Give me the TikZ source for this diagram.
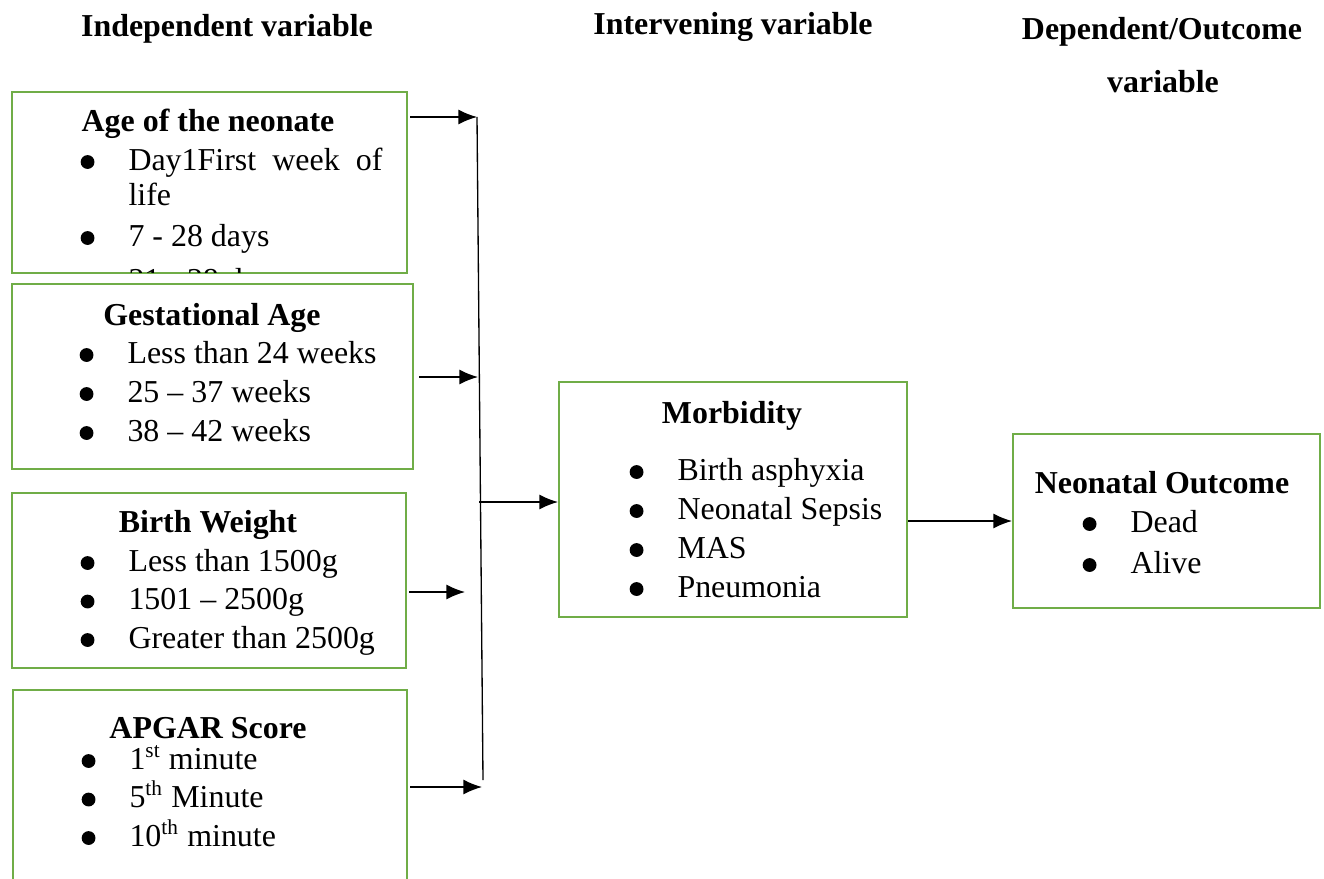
\documentclass[tikz,border=0pt]{standalone}
\usepackage{fontspec}
\setmainfont{Liberation Serif}
\usetikzlibrary{positioning,fit,arrows.meta}
\definecolor{boxgreen}{HTML}{70AD47}
\newcommand{\txtsize}{\fontsize{12pt}{14pt}\selectfont}
\newcommand{\itm}{\llap{\tikz[x=1pt,y=1pt,baseline=0pt]\fill (0,3) circle[radius=2.6];\hspace{12.8pt}}}

\begin{document}
\begin{tikzpicture}[
	x=0.376pt,y=-0.376pt,
	box/.style={
	  draw=boxgreen,
	  line width=0.75pt,
	  inner sep=0pt
	},
	head/.style={
	  anchor=base,
	  inner sep=0pt,
	  font=\txtsize\bfseries
	},
	item/.style={
	  anchor=base west,
	  inner sep=0pt,
	  font=\txtsize
	},
	conn/.style={
	  -{Latex[length=7pt,width=5.6pt]},
	  line width=0.5pt
	}
]
\useasboundingbox (0,0) rectangle (1324,878);
\clip (0,0) rectangle (1324,878);

% headings
\node[head] (indep) at (227,37) {Independent variable};
\node[head] (interv) at (733,35) {Intervening variable};
\node[head] (dep) at (1162,40) {Dependent/Outcome};
\node[head] (depvar) at (1163,93) {variable};

% age of the neonate
\node[box,fit={(12,92) (407,273)}] (agebox) {};
\node[head] at (208,132) (agetitle) {Age of the neonate};
\node[item] at (128,170) 
  (age1) {\itm\makebox[95.5pt][s]{Day1First\hfill week\hfill of}};
\node[item] at (128,205) (age1b) {life};
\node[item] at (128,246) (age2) {\itm 7 - 28 days};
\begin{scope}
\clip (14,94) rectangle (405,272);
\node[item] at (128,290) (age3) {\itm 21 - 28 days};
\end{scope}

% gestational age
\node[box,fit={(12,284) (413,469)}] (gestbox) {};
\node[head] at (212,325) (gesttitle) {Gestational Age};
\foreach \txt [count=\i] in {Less than 24 weeks, 25 -- 37 weeks, 38 -- 42 weeks}
  \node[item] at (127,{363+39*(\i-1)}) (gest\i) {\itm \txt};

% birth weight
\node[box,fit={(12,493) (406,668)}] (weightbox) {};
\node[head] at (208,532) (weighttitle) {Birth Weight};
\foreach \txt [count=\i] in {Less than 1500g, 1501 -- 2500g, Greater than 2500g}
  \node[item] at (128,{571+38.5*(\i-1)}) (weight\i) {\itm \txt};

% apgar score
\node[box,fit={(13,690) (407,900)}] (apgarbox) {};
\node[head] at (208,738) (apgartitle) {APGAR Score};
\foreach \txt [count=\i] in {1\textsuperscript{st} minute, 5\textsuperscript{th} Minute, 10\textsuperscript{th} minute}
  \node[item] at (129,{769+38.5*(\i-1)}) (apgar\i) {\itm \txt};

% morbidity
\node[box,fit={(559,382) (907,617)}] (morbbox) {};
\node[head] at (732,423) (morbtitle) {Morbidity};
\foreach \txt [count=\i] in {Birth asphyxia, Neonatal Sepsis, MAS, Pneumonia}
  \node[item] at (677,{480+39*(\i-1)}) (morb\i) {\itm \txt};

% neonatal outcome
\node[box,fit={(1013,434) (1320,608)}] (outbox) {};
\node[head] at (1162,493) (outtitle) {Neonatal Outcome};
\foreach \txt [count=\i] in {Dead, Alive}
  \node[item] at (1130,{532+41*(\i-1)}) (out\i) {\itm \txt};

% collecting line
\coordinate (bustop) at (477,117);
\coordinate (busbot) at (483,780);
\coordinate (busmid) at (479,502);
\coordinate (gesttip) at (478,377);
\coordinate (weighttip) at (465,592);
\coordinate (apgartip) at (482,787);

\draw[line width=0.5pt] (bustop) -- (busbot);
\draw[conn,shorten <=0.75pt] (agebox.east |- bustop) -- (bustop);
\draw[conn,shorten <=1.9pt] (gestbox.east |- gesttip) -- (gesttip);
\draw[conn,shorten <=0.75pt] (weightbox.east |- weighttip) -- (weighttip);
\draw[conn,shorten <=0.75pt] (apgarbox.east |- apgartip) -- (apgartip);
\draw[conn] (busmid) -- (busmid -| morbbox.west);
\draw[conn] (morbbox.east |- outbox.west) -- (outbox.west);

\end{tikzpicture}
\end{document}
